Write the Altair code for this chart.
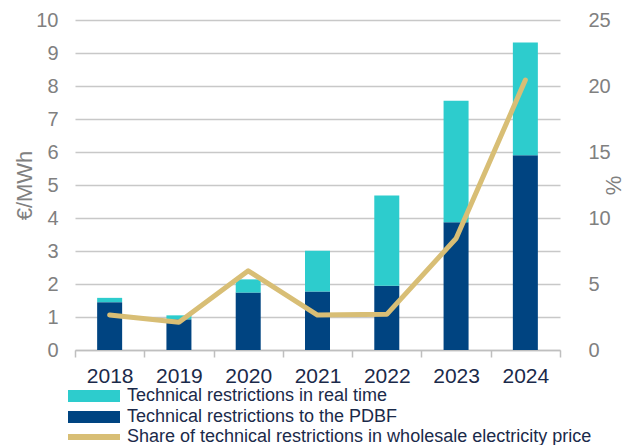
import altair as alt
import pandas as pd

years = ["2018", "2019", "2020", "2021", "2022", "2023", "2024"]
pdbf = [1.45, 0.93, 1.74, 1.77, 1.95, 3.87, 5.90]
real_time = [0.13, 0.12, 0.40, 1.24, 2.73, 3.68, 3.42]
share = [2.65, 2.10, 6.00, 2.65, 2.70, 8.45, 20.45]

S_RT = "Technical restrictions in real time"
S_PD = "Technical restrictions to the PDBF"
S_SH = "Share of technical restrictions in wholesale electricity price"

bars_df = pd.DataFrame({
    "year": years * 2,
    "value": pdbf + real_time,
    "series": [S_PD] * len(years) + [S_RT] * len(years),
    "order": [0] * len(years) + [1] * len(years),
})
line_df = pd.DataFrame({"year": years, "share": share, "series": [S_SH] * len(years)})

FONT = "Liberation Sans"
GREY = "#808080"
NAVY_TXT = "#1b2a4a"

x_enc = alt.X(
    "year:N",
    sort=years,
    scale=alt.Scale(paddingInner=0, paddingOuter=0),
    axis=alt.Axis(
        title=None, labelAngle=0, tickBand="extent", labelFontSize=21, labelColor=NAVY_TXT,
        labelFont=FONT, labelPadding=8, tickSize=7, tickColor="#bfbfbf", tickWidth=1.5,
        domainColor="#bfbfbf", domainWidth=1.5, grid=False,
    ),
)

bar_legend = alt.Legend(
    title=None, orient="none", legendX=3, legendY=367, symbolSize=256,
    symbolType="M-3.25,-0.75H3.25V0.75H-3.25Z", symbolStrokeWidth=0, symbolOpacity=1,
    symbolOffset=7, labelOffset=24, labelFontSize=18,
    labelFont=FONT, labelColor=NAVY_TXT, rowPadding=3, padding=0, labelLimit=700,
)

line_legend = alt.Legend(
    title=None, orient="none", legendX=-10, legendY=388, symbolSize=2704,
    symbolType="stroke", symbolStrokeWidth=6, symbolOpacity=1,
    symbolOffset=0, labelOffset=4, labelFontSize=18,
    labelFont=FONT, labelColor=NAVY_TXT, padding=0, labelLimit=700,
)

bars = alt.Chart(bars_df).mark_bar(size=25).encode(
    x=x_enc,
    y=alt.Y(
        "value:Q", stack="zero",
        scale=alt.Scale(domain=[0, 10], nice=False),
        axis=alt.Axis(
            title="€/MWh", values=list(range(0, 11)), ticks=False, domain=False,
            labelPadding=17, labelFontSize=20, labelColor=GREY, labelFont=FONT,
            gridColor="#c8c8c8", gridWidth=1.5,
            titleFontSize=22, titleColor=GREY, titleFont=FONT, titleFontWeight="normal",
            titleAngle=270, titleX=-51, titleY=165, titleBaseline="middle", titleAlign="center",
        ),
    ),
    fill=alt.Fill(
        "series:N",
        scale=alt.Scale(domain=[S_RT, S_PD], range=["#2DCCCD", "#004481"]),
        legend=bar_legend,
    ),
    order=alt.Order("order:Q"),
)

line = alt.Chart(line_df).mark_line(strokeWidth=5, strokeJoin="round", strokeCap="round").encode(
    x=x_enc,
    y=alt.Y(
        "share:Q",
        scale=alt.Scale(domain=[0, 25], nice=False),
        axis=alt.Axis(
            orient="right", title="%", values=[0, 5, 10, 15, 20, 25], ticks=False,
            domain=False, grid=False, labelPadding=28, labelFontSize=20, labelColor=GREY,
            labelFont=FONT, titleFontSize=22, titleColor=GREY, titleFont=FONT,
            titleFontWeight="normal", titleAngle=270, titleX=53, titleY=165,
            titleBaseline="middle", titleAlign="center",
        ),
    ),
    stroke=alt.Stroke(
        "series:N",
        scale=alt.Scale(domain=[S_SH], range=["#D8BE75"]),
        legend=line_legend,
    ),
)

chart = alt.layer(bars, line).resolve_scale(y="independent").properties(
    width=485, height=330,
    autosize=alt.AutoSizeParams(type="none"),
    padding={"left": 67, "top": 12, "right": 65, "bottom": 95},
).configure_view(stroke=None)

chart.save("out.html", embed_options={"renderer": "svg", "actions": False})
